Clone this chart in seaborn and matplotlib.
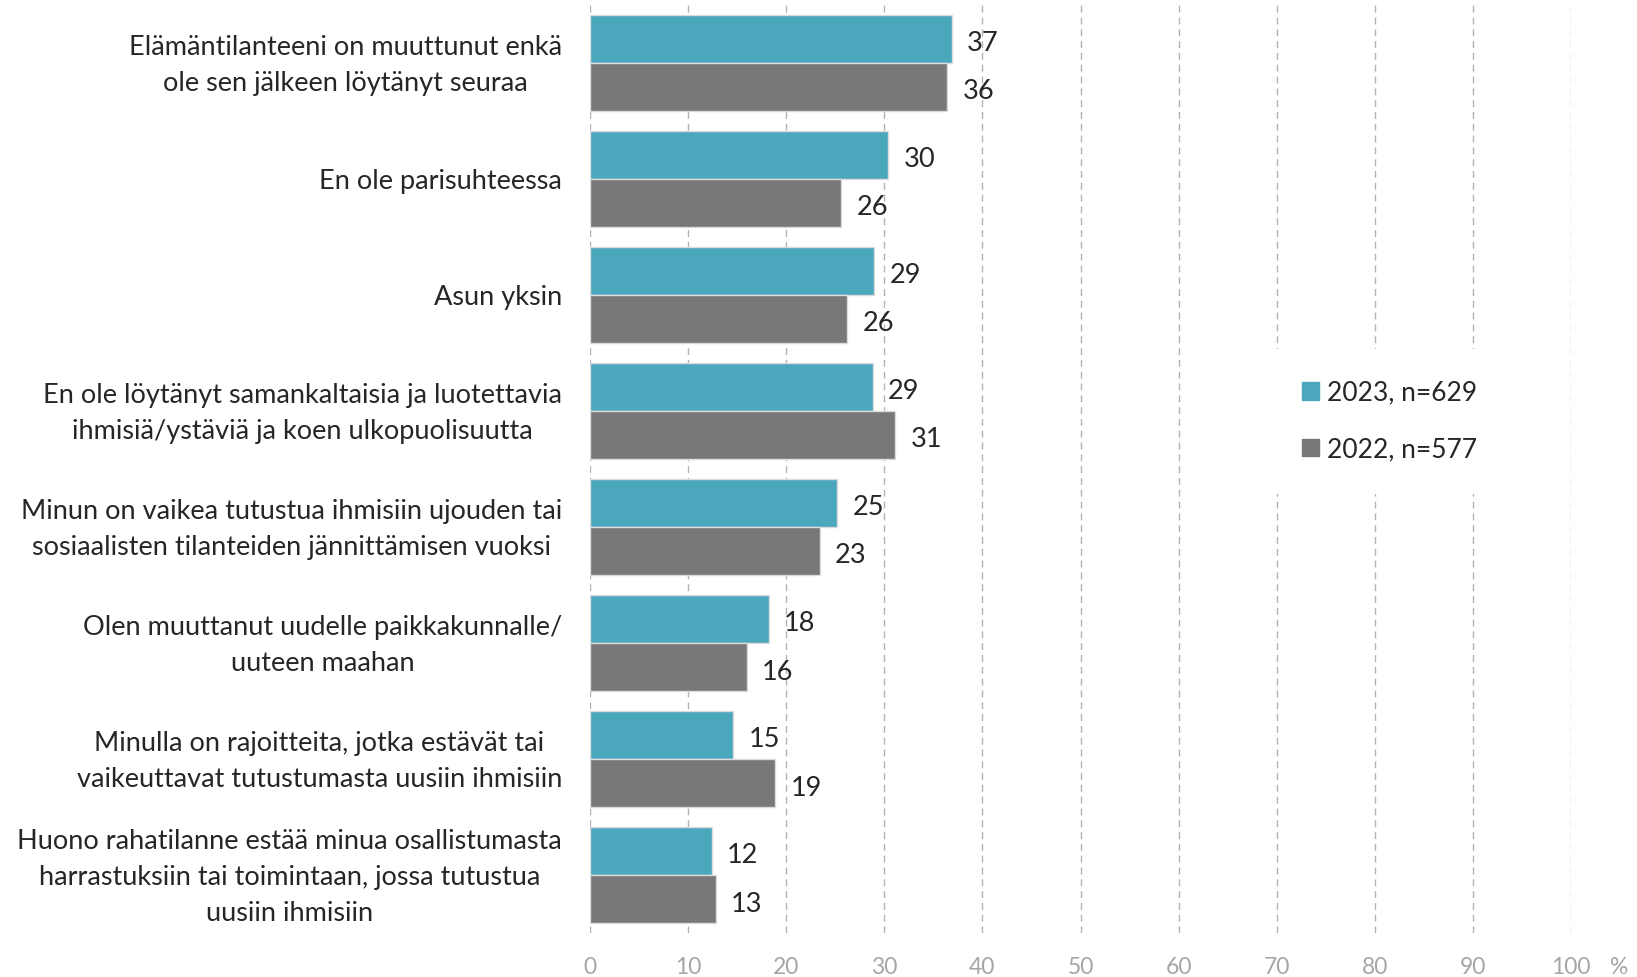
import numpy as np
import pandas as pd
import matplotlib
matplotlib.use('Agg')
import matplotlib.pyplot as plt
import matplotlib.patches as mpatches
import matplotlib.transforms as mtransforms
import seaborn as sns

# --- data ---
categories = [
    "Elämäntilanteeni on muuttunut enkä\nole sen jälkeen löytänyt seuraa",
    "En ole parisuhteessa",
    "Asun yksin",
    "En ole löytänyt samankaltaisia ja luotettavia\nihmisiä/ystäviä ja koen ulkopuolisuutta",
    "Minun on vaikea tutustua ihmisiin ujouden tai\nsosiaalisten tilanteiden jännittämisen vuoksi",
    "Olen muuttanut uudelle paikkakunnalle/\nuuteen maahan",
    "Minulla on rajoitteita, jotka estävät tai\nvaikeuttavat tutustumasta uusiin ihmisiin",
    "Huono rahatilanne estää minua osallistumasta\nharrastuksiin tai toimintaan, jossa tutustua\nuusiin ihmisiin",
]
series_names = ["2023, n=629", "2022, n=577"]
values_2023 = [36.9, 30.4, 29.0, 28.8, 25.2, 18.2, 14.6, 12.4]
values_2022 = [36.4, 25.6, 26.2, 31.1, 23.4, 16.0, 18.9, 12.8]
labels_2023 = [37, 30, 29, 29, 25, 18, 15, 12]
labels_2022 = [36, 26, 26, 31, 23, 16, 19, 13]
x_ticks = [0, 10, 20, 30, 40, 50, 60, 70, 80, 90, 100]

TEAL = '#4BA7BC'; GREY = '#787878'; TXT = '#262626'; TICK = '#a6a6a6'; GRID = '#b3b3b3'

df = pd.DataFrame({
    'cat': categories * 2,
    'value': values_2023 + values_2022,
    'year': [series_names[0]] * len(categories) + [series_names[1]] * len(categories),
})

plt.rcParams['font.family'] = ['Lato', 'DejaVu Sans']

fig = plt.figure(figsize=(16.37, 9.77), dpi=100)
fig.patch.set_facecolor('white')
ax = fig.add_axes([0.3604, 0.045, 0.5993, 0.950])

sns.barplot(data=df, y='cat', x='value', hue='year', order=categories,
            hue_order=series_names, palette=[TEAL, GREY], saturation=1, orient='h',
            width=0.833, gap=0, edgecolor='#dcdcdc', linewidth=1,
            legend=False, ax=ax)

for cont, labs in zip(ax.containers, [labels_2023, labels_2022]):
    anns = ax.bar_label(cont, labels=[str(v) for v in labs], padding=11,
                        fontsize=19.5, color=TXT)
    for a in anns:
        a.xyann = (11, -3.5)

ax.set_xlim(0, 100)
ax.set_ylim(len(categories) - 0.5, -0.5)
ax.set_xticks(x_ticks)
ax.set_xticklabels([str(t) for t in x_ticks])
ax.set_xlabel(''); ax.set_ylabel('')
ax.tick_params(axis='x', length=0, pad=17, labelsize=16.5, labelcolor=TICK)
ax.tick_params(axis='y', length=0, pad=20, labelsize=19.5, labelcolor=TXT)
shift = mtransforms.ScaledTranslation(0, 0.055, fig.dpi_scale_trans)
for lab in ax.get_yticklabels():
    lab.set_multialignment('center')
    lab.set_linespacing(1.55)
    if '\n' in lab.get_text():
        lab.set_transform(lab.get_transform() + shift)
for s in ax.spines.values():
    s.set_visible(False)
ax.xaxis.grid(True, linestyle=(0, (5, 3.5)), color=GRID, linewidth=1)
ax.set_axisbelow(True)

ax.annotate('%', xy=(104.9, 0), xycoords=('data', 'axes fraction'),
            xytext=(0, -17), textcoords='offset points',
            ha='center', va='top', fontsize=16.5, color=TICK)

handles = [mpatches.Patch(color=TEAL), mpatches.Patch(color=GREY)]
leg = ax.legend(handles, series_names, loc='center left',
                bbox_to_anchor=(1270 / 1637, 1 - 421 / 977), bbox_transform=fig.transFigure,
                frameon=True, facecolor='white', edgecolor='none', framealpha=1,
                fontsize=19, labelcolor=TXT, borderpad=1.2, labelspacing=1.2,
                handlelength=0.65, handleheight=0.65, handletextpad=0.3, borderaxespad=0)
leg.get_frame().set_linewidth(0)

fig.savefig('out.png', dpi=100, facecolor='white')
